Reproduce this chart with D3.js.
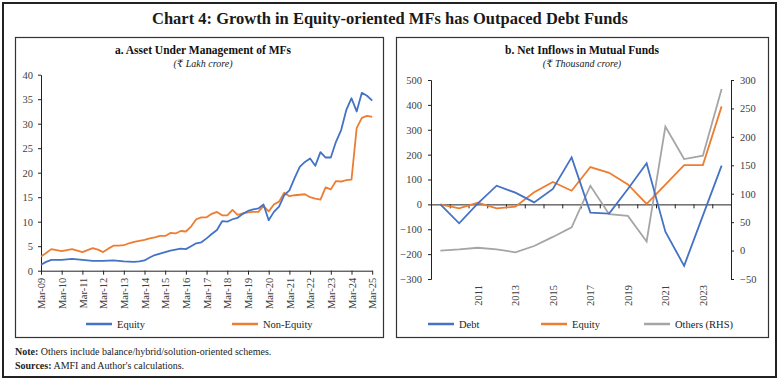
<!DOCTYPE html>
<html><head><meta charset="utf-8">
<script src="https://cdn.jsdelivr.net/npm/d3@7/dist/d3.min.js"></script>
<style>
body{margin:0;background:#fff;}
svg{display:block;font-family:"Liberation Serif","DejaVu Serif",serif;}
.axis text{fill:#404040;font-size:10.5px;font-family:"Liberation Serif","DejaVu Serif",serif;}
.axis path,.axis line{stroke:#222;}
</style></head>
<body>
<svg id="c" width="780" height="381"></svg>
<script>
// ---- Panel a data (quarterly, Mar-09 .. Mar-25) ----
const aumTickLabels = ["Mar-09","Mar-10","Mar-11","Mar-12","Mar-13","Mar-14","Mar-15","Mar-16","Mar-17","Mar-18","Mar-19","Mar-20","Mar-21","Mar-22","Mar-23","Mar-24","Mar-25"];
const equityAUM = [
1.2,1.8,2.2,2.2,
2.2,2.3,2.4,2.3,
2.2,2.1,2.0,2.0,
2.0,2.05,2.1,2.0,
1.9,1.85,1.8,1.9,
2.1,2.7,3.2,3.5,
3.8,4.1,4.3,4.5,
4.4,5.0,5.6,5.8,
6.6,7.5,8.3,10.1,
10.0,10.5,10.8,11.6,
12.2,12.5,12.7,13.5,
10.3,12.0,13.1,15.4,
16.4,18.9,21.2,22.2,
22.9,21.4,24.2,23.1,
23.1,26.3,28.7,32.8,
35.2,32.5,36.3,35.7,
34.7];
const nonEquityAUM = [
2.9,3.6,4.4,4.2,
4.0,4.2,4.4,4.1,
3.8,4.2,4.6,4.3,
3.8,4.5,5.1,5.1,
5.2,5.6,5.9,6.1,
6.3,6.6,6.8,7.1,
7.1,7.7,7.6,8.1,
8.0,9.0,10.5,10.9,
10.9,11.6,12.0,11.3,
11.3,12.4,11.4,11.7,
11.9,12.0,12.0,13.2,
12.1,13.5,14.1,15.9,
15.2,15.4,15.5,15.6,
15.0,14.7,14.5,17.0,
16.6,18.3,18.2,18.5,
18.6,29.1,31.2,31.6,
31.4];
const aumYTicks = [0,5,10,15,20,25,30,35,40];

// ---- Panel b data (annual) ----
const years = [2009,2010,2011,2012,2013,2014,2015,2016,2017,2018,2019,2020,2021,2022,2023,2024];
const debtFlow   = [0,-76,4,75,47,8,62,189,-33,-37,62,165,-110,-247,-45,156];
const equityFlow = [0,-16,7,-16,-9,49,90,55,150,127,80,2,79,158,158,394];
const othersFlow = [0,2,5,2,-3,8,24,41,114,64,61,16,218,161,167,284];
const yearLabels = [2011,2013,2015,2017,2019,2021,2023];
const leftTicks = [-300,-200,-100,0,100,200,300,400,500];
const rightTicks = [-50,0,50,100,150,200,250,300];

const C_BLUE="#4472C4", C_ORANGE="#ED7D31", C_GRAY="#A5A5A5";
const svg = d3.select("#c");

// frames
svg.append("rect").attr("x",3).attr("y",3).attr("width",773).attr("height",374)
  .attr("fill","none").attr("stroke","#222").attr("stroke-width",2);
svg.append("rect").attr("x",15.5).attr("y",37.5).attr("width",368).attr("height",300)
  .attr("fill","none").attr("stroke","#333").attr("stroke-width",1.2);
svg.append("rect").attr("x",396.5).attr("y",37.5).attr("width",372).attr("height",300)
  .attr("fill","none").attr("stroke","#333").attr("stroke-width",1.2);

// title
svg.append("text").attr("x",390).attr("y",24).attr("text-anchor","middle")
  .attr("font-size","16.5px").attr("font-weight","bold").attr("fill","#1a1a1a")
  .text("Chart 4: Growth in Equity-oriented MFs has Outpaced Debt Funds");

// panel titles
function panelTitle(cx, t, s){
  svg.append("text").attr("x",cx).attr("y",54).attr("text-anchor","middle")
    .attr("font-size","11.5px").attr("font-weight","bold").attr("fill","#111").text(t);
  svg.append("text").attr("x",cx).attr("y",67).attr("text-anchor","middle")
    .attr("font-size","10px").attr("font-style","italic").attr("fill","#222").text(s);
}
panelTitle(203,"a. Asset Under Management of MFs","(₹ Lakh crore)");
panelTitle(582,"b. Net Inflows in Mutual Funds","(₹ Thousand crore)");

// ---- Panel a ----
const xa = d3.scaleLinear().domain([0,64]).range([41,372.2]);
const ya = d3.scaleLinear().domain([0,40]).range([270.7,74.7]);

svg.append("g").attr("class","axis").attr("transform","translate(41,0)")
  .call(d3.axisLeft(ya).tickValues(aumYTicks).tickSize(3).tickPadding(5).tickSizeOuter(0));
const gxa = svg.append("g").attr("class","axis").attr("transform","translate(0,270.7)")
  .call(d3.axisBottom(xa).tickValues(d3.range(0,65,4)).tickFormat(d=>aumTickLabels[d/4]).tickSize(4).tickSizeOuter(0));
gxa.selectAll("text").attr("transform","rotate(-90)").attr("text-anchor","end")
  .attr("x",-7).attr("y",0).attr("dy","0.35em");

const lineA = arr => d3.line().x((d,i)=>xa(i)).y(d=>ya(d))(arr);
svg.append("path").attr("d",lineA(nonEquityAUM)).attr("fill","none").attr("stroke",C_ORANGE).attr("stroke-width",1.8).attr("stroke-linejoin","round");
svg.append("path").attr("d",lineA(equityAUM)).attr("fill","none").attr("stroke",C_BLUE).attr("stroke-width",1.8).attr("stroke-linejoin","round");

function legendItem(x, y, color, label){
  svg.append("line").attr("x1",x).attr("x2",x+26).attr("y1",y).attr("y2",y)
    .attr("stroke",color).attr("stroke-width",2.5);
  svg.append("text").attr("x",x+31).attr("y",y+3.5).attr("font-size","10.5px").attr("fill","#222").text(label);
}
legendItem(86,324,C_BLUE,"Equity");
legendItem(232,324,C_ORANGE,"Non-Equity");

// ---- Panel b ----
const xb = d3.scaleBand().domain(years).range([431,731]);
const xbIdx = d3.scaleLinear().domain([0,years.length]).range([431,731]);
const yl = d3.scaleLinear().domain([-300,500]).range([279,80]);
const yr = d3.scaleLinear().domain([-50,300]).range([279,80]);

svg.append("g").attr("class","axis").attr("transform","translate(431,0)")
  .call(d3.axisLeft(yl).tickValues(leftTicks).tickSize(3).tickPadding(6).tickSizeOuter(3));
svg.append("g").attr("class","axis").attr("transform","translate(731,0)")
  .call(d3.axisRight(yr).tickValues(rightTicks).tickSize(3).tickPadding(6).tickSizeOuter(3));
// zero axis line with ticks at band boundaries
svg.append("g").attr("class","axis").attr("transform",`translate(0,${yl(0)})`)
  .call(d3.axisBottom(xbIdx).tickValues(d3.range(1,years.length)).tickFormat("").tickSize(4).tickSizeOuter(0));
// category labels at the bottom
const gxl = svg.append("g").attr("class","axis").attr("transform","translate(0,279)")
  .call(d3.axisBottom(xb).tickValues(yearLabels).tickSize(0));
gxl.select(".domain").remove();
gxl.selectAll("text").attr("transform","rotate(-90)").attr("text-anchor","end")
  .attr("x",-6).attr("y",0).attr("dy","0.35em");

const cx = d => xb(d)+xb.bandwidth()/2;
const lineL = arr => d3.line().x((d,i)=>cx(years[i])).y(d=>yl(d))(arr);
const lineR = arr => d3.line().x((d,i)=>cx(years[i])).y(d=>yr(d))(arr);
svg.append("path").attr("d",lineR(othersFlow)).attr("fill","none").attr("stroke",C_GRAY).attr("stroke-width",1.8);
svg.append("path").attr("d",lineL(equityFlow)).attr("fill","none").attr("stroke",C_ORANGE).attr("stroke-width",1.8);
svg.append("path").attr("d",lineL(debtFlow)).attr("fill","none").attr("stroke",C_BLUE).attr("stroke-width",1.8);

legendItem(428,324,C_BLUE,"Debt");
legendItem(541,324,C_ORANGE,"Equity");
legendItem(644,324,C_GRAY,"Others (RHS)");

// notes
const n1 = svg.append("text").attr("x",15).attr("y",355).attr("font-size","10px").attr("fill","#222");
n1.append("tspan").attr("font-weight","bold").text("Note:");
n1.append("tspan").text(" Others include balance/hybrid/solution-oriented schemes.");
const n2 = svg.append("text").attr("x",15).attr("y",369).attr("font-size","10px").attr("fill","#222");
n2.append("tspan").attr("font-weight","bold").text("Sources:");
n2.append("tspan").text(" AMFI and Author's calculations.");
</script>
</body></html>
